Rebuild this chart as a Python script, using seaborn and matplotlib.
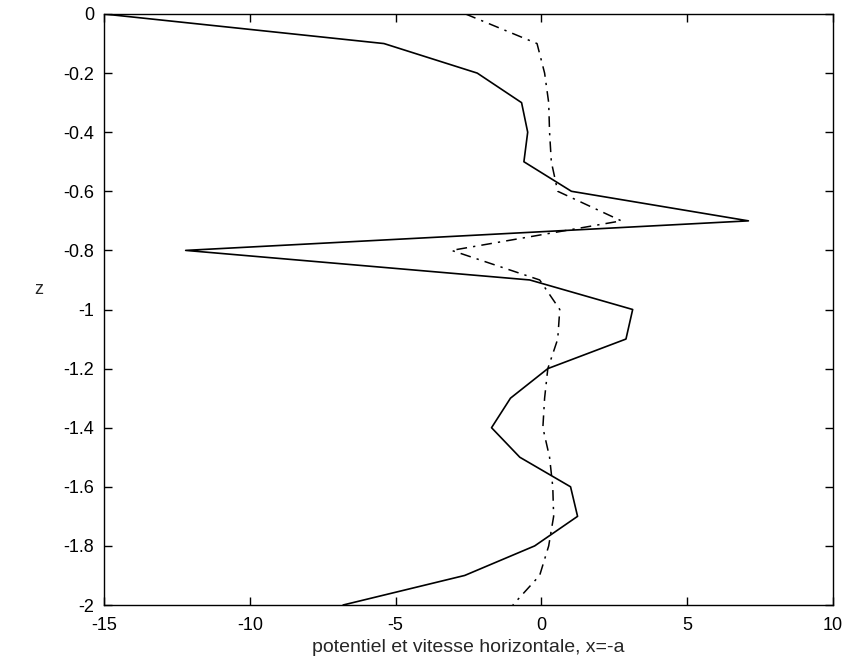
import matplotlib
matplotlib.use("Agg")
import matplotlib.pyplot as plt
import seaborn as sns
import pandas as pd
import numpy as np

sns.set_theme(style="white")
plt.rcParams['font.family'] = ['Liberation Sans', 'DejaVu Sans']

z = [0.0, -0.1, -0.2, -0.3, -0.4, -0.5, -0.6, -0.7, -0.8, -0.9, -1.0,
     -1.1, -1.2, -1.3, -1.4, -1.5, -1.6, -1.7, -1.8, -1.9, -2.0]
potentiel = [-15.0, -5.4, -2.2, -0.68, -0.47, -0.6, 1.03, 7.1, -12.2, -0.4, 3.13,
             2.9, 0.22, -1.06, -1.71, -0.74, 1.0, 1.24, -0.23, -2.63, -6.8]
vitesse = [-2.6, -0.15, 0.11, 0.25, 0.28, 0.34, 0.56, 2.74, -3.08, -0.06, 0.63,
           0.56, 0.22, 0.11, 0.05, 0.28, 0.39, 0.42, 0.25, -0.06, -0.98]

xticks = [-15, -10, -5, 0, 5, 10]
yticks = [0, -0.2, -0.4, -0.6, -0.8, -1, -1.2, -1.4, -1.6, -1.8, -2]
yticklabels = ['0', '-0.2', '-0.4', '-0.6', '-0.8', '-1', '-1.2', '-1.4', '-1.6', '-1.8', '-2']

df = pd.DataFrame({'z': z, 'potentiel': potentiel, 'vitesse': vitesse})

fig = plt.figure(figsize=(8.5, 6.61), dpi=100)
ax = fig.add_axes([104/850, 1 - 605/661, (833-104)/850, (605-14)/661])

sns.lineplot(data=df, x='potentiel', y='z', sort=False, estimator=None,
             color='black', linewidth=1.2, ax=ax)
sns.lineplot(data=df, x='vitesse', y='z', sort=False, estimator=None,
             color='black', linewidth=1.1, ax=ax, linestyle=(0, (7, 4, 1.5, 4)))

ax.set_xlim(-15, 10)
ax.set_ylim(-2, 0)
ax.set_xticks(xticks)
ax.set_xticklabels([str(t) for t in xticks])
ax.set_yticks(yticks)
ax.set_yticklabels(yticklabels)
ax.tick_params(direction='in', length=6, width=1, colors='black', labelsize=13,
               top=True, right=True, bottom=True, left=True)
ax.tick_params(axis='x', pad=9)
ax.tick_params(axis='y', pad=7)
for s in ax.spines.values():
    s.set_visible(True)
    s.set_color('black')
    s.set_linewidth(1.0)

ax.set_xlabel('potentiel et vitesse horizontale, x=-a', fontsize=14, labelpad=3)
ax.set_ylabel('z', fontsize=13, rotation=0)
ax.yaxis.set_label_coords(-0.09, 0.52)

fig.savefig('out.png', dpi=100)
